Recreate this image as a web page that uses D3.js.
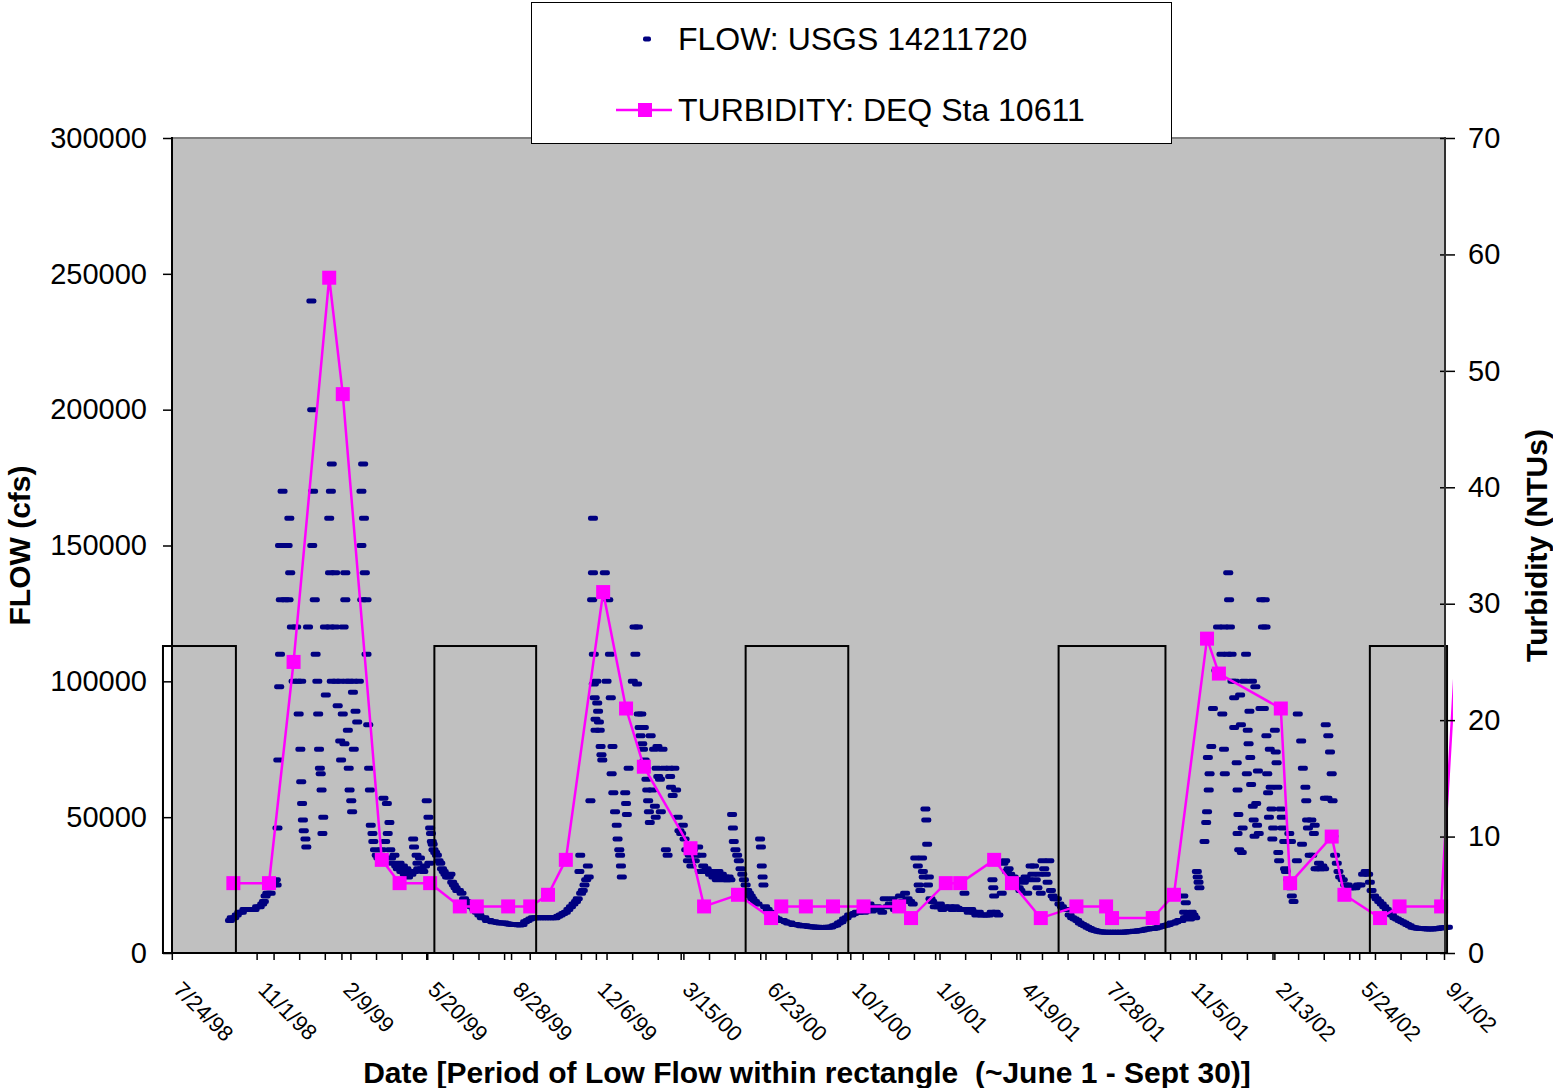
<!DOCTYPE html>
<html>
<head>
<meta charset="utf-8">
<script src="https://cdn.jsdelivr.net/npm/d3@7"></script>
<style>
  body { margin: 0; background: #fff; }
  svg { display: block; }
  text { font-family: "Liberation Sans", Arial, sans-serif; fill: #000; }
</style>
</head>
<body>
<svg id="chart" width="1553" height="1088"></svg>
<script>
// ---- axis definitions ----
const xTickLabels = ["7/24/98","11/1/98","2/9/99","5/20/99","8/28/99","12/6/99","3/15/00","6/23/00",
                     "10/1/00","1/9/01","4/19/01","7/28/01","11/5/01","2/13/02","5/24/02","9/1/02"];
const flowTicks = [0, 50000, 100000, 150000, 200000, 250000, 300000];
const turbTicks = [0, 10, 20, 30, 40, 50, 60, 70];

// ---- daily flow, USGS 14211720: [day since 7/24/98, thousand cfs] by water year ----
const flowWY1999 = [[68,12],[70,13],[73,13],[76,14],[79,15],[82,15],[85,16],[88,16],[91,16],[94,16],[97,16],[100,17],[103,17],[106,18],[108,19],[110,21],[112,22],[114,24],[116,22],[118,25],[120,26],[122,27],[123,25],
[124,46],[125,71],[126,98],[127,110],[127,150],[128,130],[130,170],[131,150],[133,130],[134,150],[136,150],[137,130],[138,160],[139,140],[141,120],[143,100],[146,120],[148,100],[149,88],[151,75],[152,100],[152,63],[153,55],[154,49],[155,45],[157,42],[158,39],[160,120],[164,240],[165,200],[165,150],[166,170],[168,130],[169,110],[171,100],[172,88],[173,75],[174,68],[175,66],[176,60],[177,44],[178,50],[180,120],[181,95],[185,160],[186,140],[186,120],[187,170],[188,180],[188,100],[192,140],[192,120],[193,100],[195,91],[198,100],[198,78],[199,71],[201,88],[202,120],[203,77],[204,140],[204,130],[205,100],[207,82],[208,68],[209,100],[209,60],[211,56],[212,52],[213,96],[214,100],[214,75],[216,89],[218,85],[220,100],[223,170],[223,150],[224,130],[225,180],[226,160],[227,140],[229,130],[229,110],[231,84],[232,68],[233,60],[234,47],[236,44],[237,41],[239,38],
[241,36],[243,35],[245,34],[247,38],[249,57],[251,41],[253,55],[254,44],[256,48],[257,38],[258,35],[260,33],[262,36],[264,32],[266,31],[268,33],[270,30],[272,32],[274,29],[276,31],[278,28],[280,30],[282,29],[284,42],[285,39],[286,30],[288,36],[289,33],[290,31],[292,35],[294,31],[296,30],[298,32],[300,56],[302,50],[303,33],[304,46],[305,44],[306,41],[307,40],[308,38],
[310,37],[312,36],[314,34],[316,33],[318,31],[320,30],[322,29],[324,28],[326,28],[328,29],[330,26],[332,25],[334,24],[336,23],[338,23],[341,22],[344,20],[347,19],[350,18],[353,17],[356,16],[359,15],[362,14],[365,13],[368,13],[371,12],[374,12],[377,11.5],[380,11.5],[383,11.2],[386,11],[389,11],[392,11],[395,10.8],[398,10.6],[401,10.5],[404,10.5],[407,10.4],[410,10.3],[413,10.5],[416,11.5],[419,12],[422,12.5],[425,13],[428,13],[431,13]];

const flowWY2000 = [[434,13],[437,13],[440,13],[443,13],[446,13],[449,13],[452,13],[455,13.5],[458,14],[461,14.5],[464,15],[467,16],[470,17],[473,18],[476,19],[478,20],[480,30],[481,36],[482,22],[484,23],[486,25],[488,27],[490,32],[491,28],[493,56],
[495,130],[496,140],[496,160],[497,110],[497,99],[498,94],[499,86],[499,82],[500,100],[501,92],[502,89],[503,85],[504,82],[505,76],[506,73],[507,71],[510,140],[512,100],[514,130],[516,110],[517,94],[518,66],[519,76],[520,59],[522,52],[524,47],[525,42],[527,38],[528,36],[529,32],[530,28],[534,59],[535,55],[536,51],[538,68],[543,100],[545,120],[546,110],[548,99],[549,120],[550,88],[551,83],[552,80],[553,88],[554,77],[555,75],[556,83],[557,71],[558,68],[559,64],[560,60],[561,56],[562,52],[563,48],[564,80],[566,60],[568,75],[569,54],[570,50],[571,68],[572,76],[573,65],[575,64],[576,52],[578,75],[580,68],[582,38],[584,36],[586,68],[587,65],[588,61],[590,58],[592,68],[594,60],[596,50],[598,45],[600,44],[602,47],[604,42],[606,38],[608,34],[610,36],[612,32],[614,38],[616,34],[618,36],[620,39],[622,30],[624,36],[626,32],[628,30],[630,31],[632,30],[634,29],[636,30],[638,28],[640,29],[642,27],[644,30],[646,28],[648,29],[650,27],[652,28],[654,27],[656,28],[658,27],[660,51],[661,46],[662,41],[664,38],[666,36],[668,34],[670,31],[672,29],[674,27],[676,25],[678,23],[680,22],[682,21],[684,20],[687,19],[690,18],[693,42],[694,39],[695,32],[696,28],[697,25],[699,17],
[702,16],[705,15],[708,14],[711,13],[714,12.5],[717,12],[720,12],[723,11.5],[726,11],[729,11],[732,10.5],[735,10.5],[738,10.3],[741,10],[744,10],[747,10],[750,9.8],[753,9.7],[756,9.6],[759,9.5],[762,9.5],[765,9.4],[768,9.4],[771,9.5],[774,9.5],[777,9.6],[780,10],[783,10.3],[786,11],[789,11.5],[792,12.5],[795,13],[798,14],[801,14]];

const flowWY2001 = [[804,14.5],[807,15],[810,15],[813,15.5],[816,15],[819,16],[822,18],[825,15.5],[828,16],[831,17],[834,16],[837,15],[840,20],[843,17],[846,18],[849,20],[852,16],[855,17],[858,21],[861,19],[864,22],[867,20],[870,19],[873,18],
[876,35],[879,32],[880,25],[882,23],[884,35],[885,30],[886,28],[888,53],[889,49],[890,40],[891,25],[892,28],[894,20],[896,19],[899,17],[902,17],[905,18],[908,16],
[911,17],[914,16.5],[917,17],[920,16],[923,17],[926,16.5],[929,16],[932,16],[934,22],[936,16],[939,15],[942,16],[945,15],[948,14],[951,15],[954,14],[957,14],[960,14],[963,14],[966,15],[967,27],[968,24],[969,21],[971,15],[974,14],
[978,22],[980,33],[982,34],[984,30],[986,31],[988,29],[990,27],[992,28],[994,25],[996,27],[998,24],[1000,23],[1002,27],[1004,26],[1006,28],[1008,22],[1010,27],[1012,32],[1014,29],[1016,32],[1018,27],[1020,24],[1022,29],[1024,22],[1026,34],[1028,31],[1030,29],[1032,26],[1034,34],[1036,23],[1038,21],[1040,20],
[1043,20],[1046,18],[1049,17],[1052,16],[1055,16],[1058,14],[1061,13],[1064,12.5],[1067,12],[1070,11],[1073,10.5],[1076,10],[1079,9.5],[1082,9],[1085,8.6],[1088,8.3],[1091,8],[1094,7.8],[1097,7.7],[1100,7.6],[1103,7.6],[1106,7.6],[1109,7.6],[1112,7.6],[1115,7.6],[1118,7.6],[1121,7.6],[1124,7.7],[1127,7.8],[1130,7.9],[1133,8],[1136,8],[1139,8.2],[1142,8.3],[1145,8.5],[1148,8.7],[1151,8.8],[1154,9],[1157,9],[1160,9.2],[1163,9.5],[1166,9.8]];

const flowWY2002 = [[1169,10],[1172,10.2],[1175,10.5],[1178,11],[1181,11],[1184,11.5],[1187,12],[1190,12],[1192,21],[1193,15],[1194,13],[1195,18.5],[1196,13],[1198,14],[1200,12.5],[1202,15],[1204,14],[1206,13],[1208,30],[1209,28],[1210,26],[1211,24],
[1217,41],[1219,48],[1220,52],[1221,72],[1222,60],[1223,66],[1225,76],[1227,90],[1231,104],[1233,120],[1237,110],[1238,88],[1240,75],[1240,120],[1241,66],[1244,110],[1245,140],[1246,130],[1247,120],[1249,110],[1250,100],[1252,94],[1252,83],[1253,100],[1255,70],[1256,60],[1257,51],[1256,44],[1258,38],
[1259,95],[1260,84],[1261,37],[1262,46],[1264,100],[1266,110],[1267,66],[1268,82],[1269,77],[1270,89],[1271,72],[1272,62],[1273,100],[1274,54],[1275,49],[1276,43],
[1277,98],[1278,55],[1279,47],[1280,67],[1281,44],[1283,90],[1284,130],[1286,120],[1287,90],[1288,130],[1289,120],
[1290,80],[1291,66],[1292,59],[1293,50],[1294,75],[1295,61],[1296,53],[1297,42],[1298,46],
[1300,82],[1301,74],[1302,70],[1303,61],[1304,37],[1305,34],[1307,53],[1308,50],[1309,46],[1311,41],
[1312,31],[1313,30],[1316,27],[1318,24],[1320,21],[1322,19],[1317,44],[1319,41],[1326,34],
[1327,88],[1331,78],[1333,68],[1336,61],[1337,56],[1338,49],[1339,46],[1332,40],
[1341,36],[1343,49],[1344,36],[1346,44],[1347,47],[1348,31],[1350,31],[1352,33],[1354,31],[1356,32],[1358,31],
[1359,57],[1360,84],[1362,57],[1363,80],[1365,74],[1367,66],[1368,56],[1369,43],
[1371,36],[1373,33],[1375,30],[1377,28],[1380,27],[1383,25],[1386,25],[1389,24],[1392,24],[1395,24],[1398,25],[1401,25],[1404,29],[1407,30],[1410,29],[1412,26],
[1414,23],[1417,21],[1420,20],[1423,19],[1426,18],[1429,17],[1432,16],[1435,15],[1438,14],[1441,13],[1444,12.5],[1447,12],[1450,11.5],[1453,11],[1456,10.5],[1459,10],
[1462,9.5],[1465,9.3],[1468,9.1],[1471,9],[1474,9],[1477,8.9],[1480,8.8],[1483,8.8],[1486,8.8],[1489,8.9],[1492,9],[1495,9.2],[1498,9.3],[1501,9.4],[1504,9.5]];

// ---- turbidity, DEQ station 10611: [day since 7/24/98, NTU] ----
const turbidity = [[72,6],[114,6],[143,25],[185,58],[201,48],[247,8],[268,6],[304,6],[339,4],[359,4],[396,4],[422,4],[443,5],[464,8],
[508,31],[535,21],[556,16],[611,9],[627,4],[667,5],[706,3],[718,4],[747,4],[779,4],[815,4],[857,4],[871,3],[912,6],[929,6],[969,8],
[990,6],[1024,3],[1066,4],[1101,4],[1108,3],[1156,3],[1181,5],[1220,27],[1234,24],[1307,21],[1318,6],[1367,10],[1382,5],[1424,3],
[1447,4],[1496,4],[1515,28]];

// ---- summer low-flow periods (boxed) ----
const lowFlowPeriods = [["7/13/98","10/7/98"],["5/29/99","9/26/99"],["5/30/00","9/28/00"],["6/3/01","10/7/01"],["6/5/02","9/4/02"]];
const lowFlowBoxTopCfs = 113000;

// ---- layout ----
const plot = { left: 172, right: 1445, top: 138, bottom: 953 };
const svg = d3.select("#chart");

const parseDate = d3.timeParse("%m/%d/%y");
const xTickDates = xTickLabels.map(parseDate);
const day0 = xTickDates[0];
const dayToDate = d => new Date(day0.getTime() + d * 864e5);

const x = d3.scaleTime()
  .domain([xTickDates[0], xTickDates[xTickDates.length - 1]])
  .range([plot.left + 0.3, plot.right - 0.5]);
const yFlow = d3.scaleLinear().domain([0, 300000]).range([plot.bottom, plot.top]);
const yTurb = d3.scaleLinear().domain([0, 70]).range([plot.bottom, plot.top]);

// plot area
svg.append("rect")
  .attr("x", plot.left).attr("y", plot.top)
  .attr("width", plot.right - plot.left).attr("height", plot.bottom - plot.top)
  .attr("fill", "#c0c0c0").attr("stroke", "#808080").attr("stroke-width", 2);

// flow dashes
const flowAll = [].concat(flowWY1999, flowWY2000, flowWY2001, flowWY2002)
  .map(([d, k]) => ({ date: dayToDate(d), cfs: k * 1000 }));
svg.append("g").selectAll("rect").data(flowAll).join("rect")
  .attr("x", d => x(d.date) - 5)
  .attr("y", d => yFlow(d.cfs) - 2.5)
  .attr("width", 10).attr("height", 5).attr("rx", 2)
  .attr("fill", "#000080");

// turbidity line + square markers
const turb = turbidity.map(([d, v]) => ({ date: dayToDate(d), ntu: v }));
svg.append("clipPath").attr("id", "turbClip").append("rect")
  .attr("x", plot.left - 10).attr("y", plot.top - 10)
  .attr("width", plot.right - plot.left + 18).attr("height", plot.bottom - plot.top + 20);
svg.append("path")
  .datum(turb)
  .attr("clip-path", "url(#turbClip)")
  .attr("fill", "none").attr("stroke", "#ff00ff").attr("stroke-width", 2.5)
  .attr("d", d3.line().x(d => x(d.date)).y(d => yTurb(d.ntu)));
svg.append("g").selectAll("rect")
  .data(turb.filter(d => d.date <= x.domain()[1]))
  .join("rect")
  .attr("x", d => x(d.date) - 7).attr("y", d => yTurb(d.ntu) - 7)
  .attr("width", 14).attr("height", 14)
  .attr("fill", "#ff00ff");

// low-flow boxes
svg.append("g").selectAll("rect").data(lowFlowPeriods).join("rect")
  .attr("x", d => x(parseDate(d[0])))
  .attr("y", yFlow(lowFlowBoxTopCfs))
  .attr("width", d => x(parseDate(d[1])) - x(parseDate(d[0])))
  .attr("height", plot.bottom - yFlow(lowFlowBoxTopCfs))
  .attr("fill", "none").attr("stroke", "#000").attr("stroke-width", 2);

// left axis (flow)
const gL = svg.append("g").attr("transform", `translate(${plot.left},0)`)
  .call(d3.axisLeft(yFlow).tickValues(flowTicks).tickSize(9).tickPadding(16).tickFormat(d3.format("d")));
gL.select(".domain").remove();
gL.selectAll(".tick line").attr("stroke", "#000").attr("stroke-width", 1.5);
gL.selectAll(".tick text").style("font-size", "29px").style("font-family", '"Liberation Sans", Arial, sans-serif');
svg.append("line").attr("x1", plot.left).attr("x2", plot.left)
  .attr("y1", plot.top - 1).attr("y2", plot.bottom + 1).attr("stroke", "#000").attr("stroke-width", 2);

// right axis (turbidity)
const gR = svg.append("g").attr("transform", `translate(${plot.right},0)`)
  .call(d3.axisRight(yTurb).tickValues(turbTicks).tickSize(10).tickPadding(13));
gR.select(".domain").remove();
gR.selectAll(".tick line").attr("x1", -5).attr("stroke", "#000").attr("stroke-width", 1.5);
gR.selectAll(".tick text").style("font-size", "29px").style("font-family", '"Liberation Sans", Arial, sans-serif');
svg.append("line").attr("x1", plot.right).attr("x2", plot.right)
  .attr("y1", plot.top - 1).attr("y2", plot.bottom + 1).attr("stroke", "#303030").attr("stroke-width", 2);

// bottom axis: 100-day labelled ticks plus roughly monthly minor ticks
svg.append("line").attr("x1", plot.left - 1).attr("x2", plot.right + 1)
  .attr("y1", plot.bottom).attr("y2", plot.bottom).attr("stroke", "#000").attr("stroke-width", 2);
const minorTicks = d3.range(120, 1500, 30.2).map(dayToDate);
svg.append("g").selectAll("line").data(minorTicks.concat(xTickDates)).join("line")
  .attr("x1", d => x(d)).attr("x2", d => x(d))
  .attr("y1", plot.bottom).attr("y2", plot.bottom + 7)
  .attr("stroke", "#000").attr("stroke-width", 1.5);
svg.append("g").selectAll("text").data(xTickLabels).join("text")
  .attr("transform", (d, i) => `translate(${x(xTickDates[i])},${plot.bottom + 38}) rotate(45)`)
  .style("font-size", "22px")
  .text(d => d);

// axis titles
svg.append("text")
  .attr("transform", `translate(30,${(plot.top + plot.bottom) / 2}) rotate(-90)`)
  .attr("text-anchor", "middle")
  .style("font-size", "30px").style("font-weight", "bold")
  .text("FLOW (cfs)");
svg.append("text")
  .attr("transform", `translate(1547,${(plot.top + plot.bottom) / 2}) rotate(-90)`)
  .attr("text-anchor", "middle")
  .style("font-size", "30px").style("font-weight", "bold")
  .text("Turbidity (NTUs)");
svg.append("text")
  .attr("x", 807).attr("y", 1083)
  .attr("text-anchor", "middle")
  .style("font-size", "30px").style("font-weight", "bold").style("white-space", "pre")
  .text("Date [Period of Low Flow within rectangle  (~June 1 - Sept 30)]");

// legend
const lg = svg.append("g");
lg.append("rect").attr("x", 531.5).attr("y", 2.5).attr("width", 640).attr("height", 141)
  .attr("fill", "#fff").attr("stroke", "#000").attr("stroke-width", 1);
lg.append("rect").attr("x", 643).attr("y", 36.5).attr("width", 8).attr("height", 5).attr("rx", 2).attr("fill", "#000080");
lg.append("text").attr("x", 678).attr("y", 50).style("font-size", "32px").text("FLOW: USGS 14211720");
lg.append("line").attr("x1", 616).attr("x2", 672).attr("y1", 110).attr("y2", 110)
  .attr("stroke", "#ff00ff").attr("stroke-width", 2.5);
lg.append("rect").attr("x", 638).attr("y", 103).attr("width", 14).attr("height", 14).attr("fill", "#ff00ff");
lg.append("text").attr("x", 678).attr("y", 121).style("font-size", "32px").text("TURBIDITY: DEQ Sta 10611");
</script>
</body>
</html>
